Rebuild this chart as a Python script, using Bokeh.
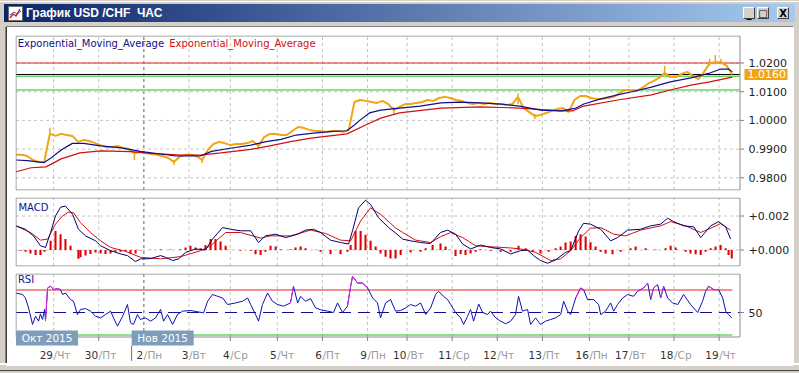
from bokeh.plotting import figure
from bokeh.models import Range1d, Div
from bokeh.layouts import column, row
from bokeh.core.properties import value
from bokeh.embed import file_html
from bokeh.resources import INLINE

# ---------------- data ----------------
title_text = "График USD /CHF  ЧАС"
day_starts = [20, 44, 68, 92, 114, 139, 163, 187, 208, 232, 256, 280, 305, 326, 350, 374]
day_nums = ["29", "30", "2", "3", "4", "5", "6", "9", "10", "11", "12", "13", "16", "17", "18", "19"]
day_names = ["Чт", "Пт", "Пн", "Вт", "Ср", "Чт", "Пт", "Пн", "Вт", "Ср", "Чт", "Пт", "Пн", "Вт", "Ср", "Чт"]
month_labels = ["Окт 2015", "Нов 2015"]
month_pos = [0, 61.5]
month_boundary = 68

price_ticks = [0.98, 0.99, 1.00, 1.01, 1.02]
price_bar = list(range(0, 382, 3))
price_close = [
    0.9880, 0.9880, 0.9876, 0.9862, 0.9855, 0.9855, 0.9953, 0.9946, 0.9953, 0.9949,
    0.9946, 0.9925, 0.9932, 0.9928, 0.9921, 0.9914, 0.9907, 0.9907, 0.9911, 0.9904,
    0.9900, 0.9886, 0.9890, 0.9886, 0.9883, 0.9880, 0.9876, 0.9869, 0.9855, 0.9873,
    0.9880, 0.9880, 0.9876, 0.9862, 0.9897, 0.9918, 0.9925, 0.9921, 0.9914, 0.9918,
    0.9918, 0.9921, 0.9928, 0.9911, 0.9942, 0.9953, 0.9953, 0.9949, 0.9949, 0.9963,
    0.9977, 0.9974, 0.9967, 0.9963, 0.9963, 0.9960, 0.9963, 0.9963, 0.9960, 0.9967,
    1.0064, 1.0071, 1.0068, 1.0064, 1.0061, 1.0068, 1.0057, 1.0036, 1.0047, 1.0057,
    1.0057, 1.0061, 1.0064, 1.0071, 1.0068, 1.0078, 1.0082, 1.0078, 1.0071, 1.0068,
    1.0061, 1.0057, 1.0061, 1.0057, 1.0061, 1.0057, 1.0057, 1.0054, 1.0057, 1.0082,
    1.0043, 1.0029, 1.0015, 1.0019, 1.0026, 1.0033, 1.0040, 1.0043, 1.0029, 1.0071,
    1.0085, 1.0085, 1.0078, 1.0075, 1.0075, 1.0078, 1.0082, 1.0095, 1.0106, 1.0106,
    1.0102, 1.0113, 1.0127, 1.0137, 1.0148, 1.0165, 1.0151, 1.0151, 1.0162, 1.0169,
    1.0155, 1.0144, 1.0169, 1.0200, 1.0203, 1.0203, 1.0190, 1.0160]
spike_bar = [18, 63, 84, 99, 129, 201, 267, 276, 345, 369, 372, 375]
spike_lo = [0.9953, 0.9862, 0.9845, 0.9852, 0.9904, 1.0022, 1.0057, 1.0005, 1.0160, 1.0190, 1.0195, 1.0195]
spike_hi = [0.9974, 0.9890, 0.9862, 0.9869, 0.9918, 1.0047, 1.0095, 1.0022, 1.0190, 1.0215, 1.0228, 1.0215]
last_price = 1.0160
levels_green = [1.0154, 1.0106]
level_red = 1.0200

ema_fast_bar = [0, 6, 15, 18, 24, 30, 36, 45, 56, 66, 77, 85, 98, 104, 114, 125, 133, 141, 149, 157,
                167, 176, 180, 183, 188, 194, 204, 215, 226, 236, 247, 258, 268, 279, 290, 298, 302,
                311, 320, 327, 338, 348, 359, 369, 375, 379, 381]
ema_fast = [0.9862, 0.9860, 0.9853, 0.9866, 0.9897, 0.9920, 0.9920, 0.9911, 0.9904, 0.9892, 0.9883,
            0.9876, 0.9876, 0.9892, 0.9903, 0.9914, 0.9926, 0.9934, 0.9949, 0.9955, 0.9961, 0.9964,
            0.9984, 1.0001, 1.0026, 1.0036, 1.0043, 1.0050, 1.0061, 1.0064, 1.0061, 1.0057, 1.0050,
            1.0036, 1.0033, 1.0043, 1.0057, 1.0075, 1.0089, 1.0099, 1.0116, 1.0134, 1.0148, 1.0165,
            1.0179, 1.0179, 1.0169]
ema_slow_bar = [0, 8, 16, 24, 34, 45, 61, 72, 88, 98, 109, 125, 135, 146, 157, 167, 176, 186, 194,
                204, 226, 247, 268, 290, 296, 302, 320, 338, 348, 359, 369, 381]
ema_slow = [0.9821, 0.9835, 0.9838, 0.9866, 0.9887, 0.9894, 0.9891, 0.9885, 0.9879, 0.9879, 0.9887,
            0.9899, 0.9911, 0.9926, 0.9938, 0.9946, 0.9953, 0.9984, 1.0008, 1.0026, 1.0043, 1.0047,
            1.0043, 1.0033, 1.0033, 1.0050, 1.0071, 1.0089, 1.0106, 1.0123, 1.0134, 1.0151]

macd_ticks = [0.002, 0.0]
macd_tick_labels = ["+0.002", "+0.000"]
macd_bar = [0, 5, 9.3, 13, 15.7, 18.4, 21, 23.7, 26.3, 30.1, 33.2, 37, 42.3, 45, 50.3, 55.6, 59.3,
            63.6, 66.2, 71.6, 76.9, 79.5, 83.3, 86.5, 90.2, 95.5, 100.8, 104.5, 109.9, 114.1, 119.4,
            124.8, 129, 132.7, 138.1, 143.4, 149.8, 154, 158.2, 162, 167.3, 172.6, 176.9, 179, 182.2,
            185.9, 188.6, 192.8, 198.2, 201.9, 205.7, 209.9, 215.2, 220.5, 225.8, 229.6, 233.8, 237.6,
            241.8, 247.1, 252.4, 257.8, 263.1, 268.4, 272.1, 275.3, 279, 282.8, 287, 292.3, 295,
            299.3, 301.9, 305.6, 311, 316.3, 320, 325.3, 332.2, 337.6, 342.9, 346.6, 349.8, 355.1,
            360.5, 364.2, 369.5, 373.7, 377.5, 380.1]
macd_val = [0.00142, 0.00122, 0.00083, 0.00025, 0.00015, 0.00103, 0.00200, 0.00252, 0.00258, 0.00210,
            0.00122, 0.00083, 0.00054, 0.00025, -0.00004, -0.00023, -0.00033, -0.00068, -0.00052,
            -0.00051, -0.00033, -0.00043, -0.00062, -0.00052, -0.00014, 0.00006, 0.00000, 0.00064,
            0.00132, 0.00122, 0.00113, 0.00113, 0.00044, 0.00083, 0.00093, 0.00073, 0.00093, 0.00117,
            0.00122, 0.00103, 0.00058, 0.00044, 0.00035, 0.00113, 0.00248, 0.00293, 0.00268, 0.00190,
            0.00132, 0.00100, 0.00064, 0.00054, 0.00044, 0.00038, 0.00103, 0.00117, 0.00093, 0.00035,
            0.00006, 0.00029, 0.00015, 0.00006, -0.00023, -0.00004, 0.00000, -0.00033, -0.00062,
            -0.00078, -0.00058, -0.00014, -0.00004, 0.00113, 0.00157, 0.00152, 0.00122, 0.00054,
            0.00073, 0.00117, 0.00122, 0.00142, 0.00152, 0.00187, 0.00167, 0.00142, 0.00136, 0.00073,
            0.00142, 0.00167, 0.00136, 0.00064]
signal_bar = [0, 7.7, 13, 16.8, 21, 24.7, 27.9, 30.6, 34.3, 39.6, 45, 50.3, 58.3, 66.2, 76.9, 87.5,
              98.2, 103.5, 111.5, 119.4, 130.1, 135.4, 146, 156.7, 164.7, 172.6, 178, 183.3, 188.6,
              193.9, 201.9, 205.7, 212.5, 220.5, 225.8, 231.2, 237.6, 244.5, 252.4, 263.1, 268.4,
              276.4, 284.4, 289.7, 295, 300.3, 305.6, 311, 317.9, 324.3, 332.2, 342.9, 348.2, 356.2,
              364.2, 371.1, 374.8, 380.1]
signal_val = [0.00142, 0.00103, 0.00058, 0.00064, 0.00152, 0.00200, 0.00223, 0.00219, 0.00161, 0.00103,
              0.00054, 0.00015, -0.00008, -0.00043, -0.00052, -0.00039, -0.00004, 0.00025, 0.00103,
              0.00103, 0.00070, 0.00083, 0.00083, 0.00117, 0.00097, 0.00058, 0.00054, 0.00171,
              0.00248, 0.00210, 0.00130, 0.00103, 0.00058, 0.00044, 0.00078, 0.00103, 0.00073,
              0.00025, 0.00019, 0.00012, 0.00006, -0.00014, -0.00062, -0.00052, -0.00004, 0.00073,
              0.00128, 0.00132, 0.00093, 0.00083, 0.00117, 0.00142, 0.00167, 0.00142, 0.00103,
              0.00136, 0.00155, 0.00117]
hist_bar = [2.4, 5.1, 7.7, 10.4, 13, 15.2, 18.4, 21, 23.7, 26.3, 29, 33.2, 34.3, 37, 39.6, 42.3, 45,
            47.6, 50.3, 52.9, 55.6, 58.3, 60.9, 63.6, 66.2, 71.6, 76.9, 82.2, 87.5, 90.2, 92.8, 95.5,
            98.2, 100.8, 103.5, 106.1, 108.8, 111.5, 114.1, 119.4, 124.8, 127.4, 130.1, 132.7, 135.4,
            138.1, 140.7, 146, 148.7, 151.4, 154, 159.3, 162, 167.3, 172.6, 176.3, 178, 180.6, 183.3,
            185.9, 188.6, 191.3, 193.9, 196.6, 199.2, 201.9, 204.6, 209.9, 215.2, 217.9, 221.6,
            225.8, 228.5, 231.2, 233.8, 236.5, 239.1, 241.8, 244.5, 247.1, 252.4, 257.8, 263.1,
            267.3, 271.1, 274.8, 279, 283.3, 287, 289.7, 292.3, 295, 297.7, 300.3, 303, 305.6, 308.3,
            311, 313.6, 317.3, 321.6, 326.9, 329.6, 334.9, 340.2, 345.5, 348.2, 350.9, 356.2, 358.8,
            361.5, 364.2, 366.8, 369.5, 372.1, 374.8, 377.5, 379, 380.7]
hist_val = [-0.00005, -0.0001, -0.0002, -0.0003, -0.0003, -0.0001, 0.00054, 0.00112, 0.00093, 0.00064,
            0.00025, -0.00052, -0.00043, -0.00033, -0.00023, -0.00014, -0.0002, -0.00023, -0.0002,
            -0.0001, -0.0001, -0.00008, -0.0002, -0.0002, -0.00003, 0.00002, 0.00005, 0.00003,
            0.00005, 0.00015, 0.00025, 0.00015, 0.0001, 0.0003, 0.00064, 0.00064, 0.0005, 0.00025,
            0.00002, -0.00005, -0.00005, -0.00025, -0.0003, -0.0001, 0.00025, 0.0002, 0.00005,
            0.00005, 0.00015, 0.0002, 0.0001, 0.00002, -0.0001, -0.00025, -0.00025, -0.0001, 0.0003,
            0.00112, 0.00112, 0.0009, 0.00054, 0.0002, -0.0002, -0.0004, -0.0005, -0.0005, -0.0003,
            -0.00015, -0.0001, 0.0001, 0.0003, 0.00038, 0.0002, 0.00002, -0.00035, -0.00023, -0.0003,
            -0.0002, -0.0001, 0.00005, -0.00005, -0.0001, -0.0001, 0.00025, 0.0001, -0.0001, -0.0002,
            -0.0001, 0.0001, 0.0002, 0.00044, 0.0005, 0.00083, 0.00093, 0.0008, 0.00045, 0.0002,
            -0.0001, -0.0002, -0.00025, -0.0001, 0.0001, 0.0002, 0.0001, 0.00003, 0.0001, 0.00025,
            0.00015, -0.0001, -0.0002, -0.00025, -0.0003, -0.0001, 0.0001, 0.0002, 0.0003, 0.0001,
            -0.0003, -0.0005]

rsi_levels = [30, 50, 70]
rsi_ticks = [50]
rsi_bar = [0, 3.5, 5, 6.7, 8.8, 10.4, 12, 13, 14.1, 15.2, 15.7, 16.8, 18.4, 20, 22, 23.7, 24.7, 26.3,
           29, 30.6, 32.7, 34.3, 37, 39.6, 42.3, 45, 47.6, 50.3, 51.9, 54, 56.7, 59.3, 60.9, 62.5,
           64.6, 66.2, 68.9, 71.6, 74.2, 76.9, 78.5, 80.6, 83.3, 85.9, 88.6, 92.8, 97.1, 99.8, 101.9,
           104.5, 107.2, 109.9, 112.5, 116.8, 120.5, 123.2, 124.8, 127.4, 129, 131.1, 133.8, 136.4,
           139.1, 142.3, 146, 147.6, 149.8, 151.4, 154, 156.7, 159.3, 162, 165.7, 168.9, 171, 173.7,
           176.3, 178, 179, 181.7, 184.4, 187, 189.7, 192.3, 193.9, 196.6, 199.2, 201.9, 204.6,
           207.2, 209.9, 212.5, 215.2, 217.9, 220.5, 223.2, 224.8, 227.4, 229.6, 231.2, 233.8,
           236.5, 238.1, 240.2, 241.8, 243.4, 246.1, 248.2, 250.8, 252.4, 255.1, 257.8, 260.4,
           263.1, 265.7, 267.3, 269.4, 272.1, 273.7, 276.4, 279, 281.7, 284.4, 287, 289.7, 291.3,
           293.4, 295, 297.7, 300.3, 301.9, 304, 307.2, 309.9, 311, 313.6, 316.3, 317.9, 320,
           322.7, 325.3, 328.5, 330.6, 333.8, 336, 337.6, 339.1, 341.3, 342.9, 344.5, 346.6, 349.3,
           352, 355.1, 358.8, 362.6, 365.2, 366.8, 368.4, 371.1, 373.7, 375.9, 377.5, 379, 380.7]
rsi_val = [67.3, 66, 63, 54, 39.4, 46.7, 42.3, 48.8, 43.8, 52.7, 42.9, 71.8, 73.3, 70.4, 71.2, 70.4,
           66, 67.3, 61.5, 60, 48.2, 52.7, 53.5, 51.2, 46.7, 45.2, 48.2, 51.2, 45.2, 37.9, 46.7, 57.1,
           40.8, 39.4, 48.2, 43.8, 45.2, 42.3, 45.2, 52.7, 42.3, 48.2, 39.4, 48.2, 51.2, 51.8, 50.5,
           49.7, 60, 66, 64.4, 62.9, 57.1, 58.5, 60, 62.9, 57.1, 48.2, 42.3, 57.1, 67.3, 60, 57.1,
           55.6, 58.5, 73.3, 58.5, 64.4, 60, 62.4, 54.1, 52.5, 51.2, 50, 58.5, 50, 55.6, 73.3, 82.1,
           76.2, 76.2, 71.8, 62.9, 58.5, 45.2, 58.5, 61.5, 51.2, 51.8, 54, 57.1, 55.6, 58.5, 48.2,
           54, 66, 68.8, 64.4, 61.5, 57.1, 50, 45.2, 39.4, 46.7, 52.7, 42.3, 57.6, 50, 48.2, 51.2,
           45.2, 42.3, 40, 42.3, 48.2, 64.4, 51.2, 52.7, 39.4, 45.2, 39.4, 42.3, 43.8, 45.2, 48.2,
           60, 51.2, 48.2, 62.9, 71.8, 70.4, 61.5, 61.5, 57.1, 48.2, 51.2, 58.5, 51.2, 57.1, 62.9,
           66, 64.4, 68.8, 71.8, 76.2, 61.5, 71.8, 74.7, 62.9, 73.3, 62.9, 58.5, 57.1, 66, 57.1, 50,
           60, 68.8, 73.3, 70.4, 70.4, 62.9, 51.2, 48.2, 45.2]

# ---------------- styling ----------------
FONT = "DejaVu Sans"
GRID_C = "#c4c4c4"
BORDER_C = "#8c8c8c"
NAVY = "#10108c"
RED = "#d01010"
LEVEL_RED = "#e02020"
ORANGE = "#f2a413"
GREEN = "#20c020"
MAGENTA = "#e020e0"
GREY = "#d4d0c8"
MONTH_C = "#7a7a7a"
PX = 1.88              # pixels per hourly bar
X0 = -0.27             # bar at the left edge of every frame
PANEL_R = 385.1        # bar at the right border of the panels
FRAME_W = 778
n = len(day_starts)
last_bar = price_bar[-1]

x_range = Range1d(X0, X0 + FRAME_W / PX)


def panel(h, top, bottom, ylo, yhi):
    p = figure(width=786, height=h, x_range=x_range, y_range=Range1d(ylo, yhi),
               x_axis_location=None, y_axis_location=None, toolbar_location=None,
               output_backend="svg", min_border_left=8, min_border_right=0,
               min_border_top=top, min_border_bottom=bottom, title=None,
               background_fill_color="white", border_fill_color="white", outline_line_color=None)
    p.grid.visible = False
    return p


def grid_and_border(p, lo, hi, hticks):
    p.segment(x0=day_starts, y0=[lo] * n, x1=day_starts, y1=[hi] * n, line_color=GRID_C,
              line_dash="3 3")
    p.segment(x0=[month_boundary], y0=[lo], x1=[month_boundary], y1=[hi], line_color=MONTH_C,
              line_dash="3 3")
    k = len(hticks)
    if k:
        p.segment(x0=[0] * k, y0=hticks, x1=[PANEL_R] * k, y1=hticks, line_color=GRID_C,
                  line_dash="3 3")


def border(p, lo, hi):
    p.quad(left=[0], right=[PANEL_R], bottom=[lo], top=[hi], fill_color=None, line_color=BORDER_C)


def right_scale(p, ticks, labels):
    k = len(ticks)
    p.segment(x0=[PANEL_R] * k, y0=ticks, x1=[PANEL_R + 4 / PX] * k, y1=ticks, line_color="#808080")
    p.text(x=[PANEL_R + 8.5 / PX] * k, y=ticks, text=labels, text_color="#222222",
           text_font=value(FONT), text_font_size="11px", text_baseline="middle", text_align="left")


def caption(p, x, y, txt, color):
    p.text(x=[x], y=[y], text=[txt], text_color=color, text_font=value(FONT),
           text_font_size="10px", text_baseline="middle", text_align="left")


# ---- price panel (frame y 35..190, 2870 px per unit) ----
P_PPU = 2870.0
P_HI = 1.02 + 27.5 / P_PPU
P_LO = P_HI - 155 / P_PPU
pb, pt = P_LO + 0.5 / P_PPU, P_HI - 0.5 / P_PPU
p1 = panel(166, 8, 3, P_LO, P_HI)
grid_and_border(p1, pb, pt, price_ticks)
p1.segment(x0=[0] * len(levels_green), y0=levels_green, x1=[PANEL_R] * len(levels_green),
           y1=levels_green, line_color=GREEN, line_width=1)
p1.segment(x0=[0], y0=[level_red], x1=[PANEL_R], y1=[level_red], line_color=LEVEL_RED, line_width=1)
p1.segment(x0=[0], y0=[last_price], x1=[PANEL_R], y1=[last_price], line_color="#000000", line_width=1)
p1.segment(x0=spike_bar, y0=spike_lo, x1=spike_bar, y1=spike_hi, line_color=ORANGE, line_width=1.5)
p1.line(price_bar, price_close, line_color=ORANGE, line_width=2)
p1.line(ema_slow_bar, ema_slow, line_color=RED, line_width=1.2)
p1.line(ema_fast_bar, ema_fast, line_color=NAVY, line_width=1.2)
border(p1, pb, pt)
right_scale(p1, price_ticks, ["%.4f" % t for t in price_ticks])
p1.quad(left=[PANEL_R + 4.5 / PX], right=[PANEL_R + 47.5 / PX],
        bottom=[last_price - 5.5 / P_PPU], top=[last_price + 5.5 / P_PPU],
        fill_color=ORANGE, line_color=None)
p1.text(x=[PANEL_R + 7.5 / PX], y=[last_price], text=["%.4f" % last_price],
        text_color="white", text_font=value(FONT), text_font_size="11px",
        text_baseline="middle", text_align="left")
caption(p1, 0.9, 1.02 + 19.5 / P_PPU, "Exponential_Moving_Average", NAVY)
caption(p1, 81.5, 1.02 + 19.5 / P_PPU, "Exponential_Moving_Average", RED)

# ---- MACD panel (frame y 197..266, 17000 px per unit) ----
M_PPU = 17000.0
M_HI = 0.002 + 18.5 / M_PPU
M_LO = M_HI - 69 / M_PPU
mb, mt = M_LO + 0.5 / M_PPU, M_HI - 0.5 / M_PPU
p2 = panel(76, 4, 3, M_LO, M_HI)
grid_and_border(p2, mb, mt, macd_ticks)
p2.vbar(x=hist_bar, top=hist_val, bottom=0, width=1.1, fill_color="#e00000", line_color=None)
p2.line(signal_bar, signal_val, line_color=RED, line_width=1)
p2.line(macd_bar, macd_val, line_color="#000070", line_width=1)
border(p2, mb, mt)
right_scale(p2, macd_ticks, macd_tick_labels)
caption(p2, 1.3, 0.002 + 9 / M_PPU, "MACD", NAVY)

# ---- RSI panel + date strip (frame y 273..363, 1.125 px per unit) ----
R_PPU = 1.125
R_HI = 70 + 16.5 / R_PPU
R_LO = R_HI - 90 / R_PPU
rt = 70 + 16.0 / R_PPU        # panel top border (px 273.5)
rb = 70 - 47.0 / R_PPU        # panel bottom border (px 336.5)
p3 = panel(94, 4, 0, R_LO, R_HI)
grid_and_border(p3, rb, rt, [])
p3.segment(x0=[0], y0=[rsi_levels[2]], x1=[last_bar], y1=[rsi_levels[2]], line_color=LEVEL_RED, line_width=1)
p3.segment(x0=[0], y0=[rsi_levels[0]], x1=[last_bar], y1=[rsi_levels[0]], line_color=GREEN, line_width=1)
p3.segment(x0=[0], y0=[rsi_levels[1]], x1=[PANEL_R], y1=[rsi_levels[1]], line_color=NAVY,
           line_width=1, line_dash="12 7")
p3.line(rsi_bar, rsi_val, line_color="#1010b0", line_width=1)
mx0, my0, mx1, my1 = [], [], [], []
for i in range(len(rsi_val) - 1):
    if rsi_val[i + 1] > 70:
        mx0.append(rsi_bar[i]); my0.append(rsi_val[i])
        mx1.append(rsi_bar[i + 1]); my1.append(rsi_val[i + 1])
p3.segment(x0=mx0, y0=my0, x1=mx1, y1=my1, line_color=MAGENTA, line_width=1)
border(p3, rb, rt)
right_scale(p3, rsi_ticks, [str(t) for t in rsi_ticks])
p3.segment(x0=day_starts, y0=[rb] * n, x1=day_starts, y1=[rb - 4 / R_PPU] * n, line_color="#808080")
caption(p3, 1.0, 70 + 10.2 / R_PPU, "RSI", NAVY)
box_w = 33
box_top, box_bot = 70 - 40.5 / R_PPU, 70 - 55.5 / R_PPU
p3.quad(left=month_pos, right=[m + box_w for m in month_pos], bottom=[box_bot] * 2, top=[box_top] * 2,
        fill_color="#7f9dba", line_color=None)
p3.segment(x0=[month_pos[1]], y0=[box_bot], x1=[month_pos[1]], y1=[70 - 71 / R_PPU], line_color="#707070")
p3.text(x=[m + box_w / 2 for m in month_pos], y=[70 - 48 / R_PPU] * 2, text=month_labels,
        text_color="white", text_font=value(FONT), text_font_size="10.5px",
        text_baseline="middle", text_align="center")
label_y = 70 - 64.5 / R_PPU
p3.text(x=[d - 0.3 for d in day_starts], y=[label_y] * n, text=day_nums, text_color="#333333",
        text_font=value(FONT), text_font_size="10.5px", text_baseline="middle", text_align="right")
p3.text(x=day_starts, y=[label_y] * n, text=["/" + s for s in day_names], text_color="#9a9a9a",
        text_font=value(FONT), text_font_size="10.5px", text_baseline="middle", text_align="left")

# ---------------- window chrome ----------------
btns = ""
for left, ch in [(743, "_"), (757, "□"), (777, "X")]:
    btns += ('<div style="position:absolute;left:%dpx;top:7px;width:12px;height:12px;background:%s;'
             'border-top:1px solid #fff;border-left:1px solid #fff;border-right:1px solid #404040;'
             'border-bottom:1px solid #404040;font-family:\'DejaVu Sans\';font-weight:bold;font-size:10px;'
             'line-height:12px;text-align:center;color:#000;">%s</div>' % (left, GREY, ch))
title_html = (
    '<div style="position:relative;width:799px;height:27px;background:%s;overflow:hidden;">'
    '<div style="position:absolute;left:0;top:1px;width:799px;height:1px;background:#ffffff;"></div>'
    '<div style="position:absolute;left:4px;top:4px;width:791px;height:18px;'
    'background:linear-gradient(to right,#0a246a,#a6caf0);"></div>'
    '<svg style="position:absolute;left:8px;top:6px" width="15" height="15">'
    '<rect x="0.5" y="0.5" width="14" height="14" fill="#ffffff" stroke="#6a6a6a"/>'
    '<polyline points="2,12 5,8 8,10 12,3" fill="none" stroke="#d02020" stroke-width="1.5"/>'
    '<polyline points="2,9 6,6 9,8 13,5" fill="none" stroke="#2060c0" stroke-width="1"/></svg>'
    '<div style="position:absolute;left:26px;top:5px;color:#ffffff;font-family:\'Liberation Sans\';'
    'font-weight:bold;font-size:12px;line-height:16px;white-space:pre;">%s</div>%s'
    '<div style="position:absolute;left:6px;top:26px;width:787px;height:1px;background:#808080;"></div>'
    '</div>' % (GREY, title_text, btns))
title_div = Div(text=title_html, width=799, height=27, margin=0)
left_div = Div(text='<div style="position:relative;width:7px;height:336px;background:%s;">'
                    '<div style="position:absolute;left:5px;top:0;width:1px;height:336px;background:#808080"></div>'
                    '<div style="position:absolute;left:6px;top:0;width:1px;height:336px;background:#404040"></div>'
                    '</div>' % GREY, width=7, height=336, margin=0)
right_div = Div(text='<div style="position:relative;width:6px;height:336px;background:%s;">'
                     '<div style="position:absolute;left:0;top:0;width:1px;height:336px;background:#ffffff"></div>'
                     '</div>' % GREY, width=6, height=336, margin=0)
bottom_div = Div(text='<div style="position:relative;width:799px;height:10px;background:%s;">'
                      '<div style="position:absolute;left:6px;top:0;width:787px;height:1px;background:#ffffff"></div>'
                      '<div style="position:absolute;left:0;top:5px;width:799px;height:1px;background:#404040"></div>'
                      '</div>' % GREY, width=799, height=10, margin=0)

charts = column(p1, p2, p3, spacing=0)
layout = column(title_div, row(left_div, charts, right_div, spacing=0), bottom_div, spacing=0)

open("out.html", "w").write(file_html(layout, INLINE))
